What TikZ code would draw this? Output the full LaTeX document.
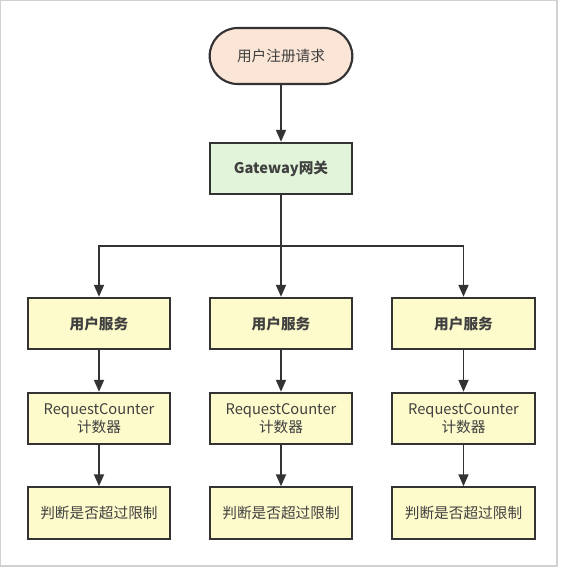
\documentclass[tikz,border=0pt]{standalone}
\usepackage{fontspec}
\setmainfont{Noto Sans CJK SC}
\usetikzlibrary{arrows.meta}
\definecolor{peach}{HTML}{FBE5D6}
\definecolor{mint}{HTML}{E2F5DA}
\definecolor{pale}{HTML}{FDFBCB}
\definecolor{ink}{HTML}{333333}
\definecolor{txt}{HTML}{404040}
\tikzset{
  box/.style={draw=ink, line width=1.6pt, minimum width=107pt, minimum height=38.5pt,
    inner sep=0pt, align=center, text=txt, font=\fontsize{11}{13}\selectfont},
  ybox/.style={box, fill=pale},
  conn/.style={draw=ink, line width=1.4pt, -{Triangle[width=7.5pt,length=9pt]}}
}
\begin{document}
\begin{tikzpicture}[x=0.75pt,y=-0.75pt]
\useasboundingbox (0,0) rectangle (563,568);
\draw[black!18, line width=0.9pt] (0.5,0.5) rectangle (557,566);
\node[box, fill=peach, rounded corners=21pt, minimum height=42pt] (req) at (281,56) {用户注册请求};
\node[box, fill=mint] (gw) at (281,168.5) {\textbf{Gateway网关}};
\foreach \i/\x in {a/99, b/281, c/463.5} {
  \node[ybox] (s\i) at (\x,323.5) {\textbf{用户服务}};
  \node[ybox] (c\i) at (\x,418.5) {RequestCounter\\计数器};
  \node[ybox] (j\i) at (\x,513) {判断是否超过限制};
  \draw[conn] (s\i) -- (c\i);
  \draw[conn] (c\i) -- (j\i);
}
\draw[conn] (req) -- (gw);
\coordinate (br) at (281,246);
\draw[conn] (gw) -- (sb);
\draw[conn] (br) -| (sa);
\draw[conn] (br) -| (sc);
\end{tikzpicture}
\end{document}
